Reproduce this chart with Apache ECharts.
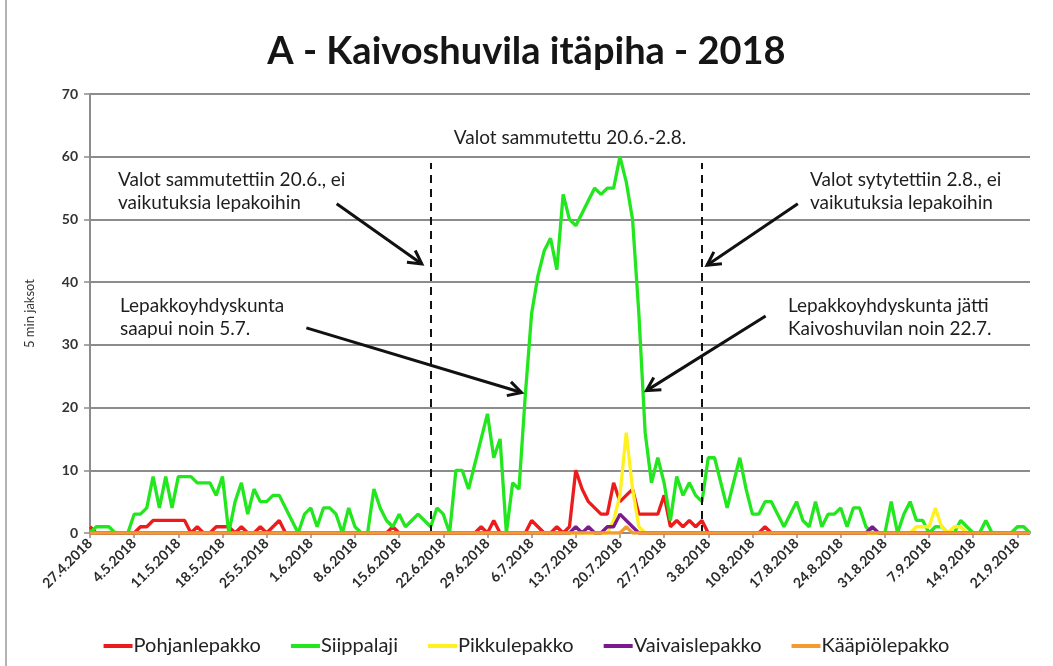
<!DOCTYPE html>
<html>
<head>
<meta charset="utf-8">
<script src="https://cdn.jsdelivr.net/npm/echarts@6/dist/echarts.min.js"></script>
<style>
  html, body { margin: 0; padding: 0; background: #ffffff; }
  #main { width: 1053px; height: 666px; }
</style>
</head>
<body>
<div id="main"></div>
<script>
// Daily counts of 5-minute periods with bat activity, 27.4.2018 – 23.9.2018
const firstDay = [2018, 4, 27];
const dayCount = 150;

const speciesNames = ['Pohjanlepakko', 'Siippalaji', 'Pikkulepakko', 'Vaivaislepakko', 'Kääpiölepakko'];
const speciesColors = ['#ec1c1c', '#22e61e', '#fff020', '#7a1a8e', '#f39a30'];

const pohjanlepakko = [
  1,0,0,0,0,0,0,0,1,1, 2,2,2,2,2,2,0,1,0,0, 1,1,1,0,1,0,0,1,0,1,
  2,0,0,0,0,0,0,0,0,0, 0,0,0,0,0,0,0,0,1,0, 0,0,0,0,0,0,0,0,0,0,
  0,0,1,0,2,0,0,0,0,0, 2,1,0,0,1,0,1,10,7,5, 4,3,3,8,5,6,7,3,3,3,
  3,6,1,2,1,2,1,2,0,0, 0,0,0,0,0,0,0,1,0,0, 0,0,0,0,0,0,0,0,0,0,
  0,0,0,0,0,0,0,0,0,0, 0,0,0,0,0,0,0,0,0,0, 0,0,0,0,0,0,0,0,0,0
];
const siippalaji = [
  0,1,1,1,0,0,0,3,3,4, 9,4,9,4,9,9,9,8,8,8, 6,9,0,5,8,3,7,5,5,6,
  6,4,2,0,3,4,1,4,4,3, 0,4,1,0,0,7,4,2,1,3, 1,2,3,2,1,4,3,0,10,10,
  7,11,15,19,12,15,0,8,7,22, 35,41,45,47,42,54,50,49,51,53, 55,54,55,55,60,56,50,35,16,8,
  12,8,2,9,6,8,6,5,12,12, 8,4,8,12,7,3,3,5,5,3, 1,3,5,2,1,5,1,3,3,4,
  1,4,4,1,0,0,0,5,0,3, 5,2,2,0,1,1,0,0,2,1, 0,0,2,0,0,0,0,1,1,0
];
const pikkulepakko = [
  0,0,0,0,0,0,0,0,0,0, 0,0,0,0,0,0,0,0,0,0, 0,0,0,0,0,0,0,0,0,0,
  0,0,0,0,0,0,0,0,0,0, 0,0,0,0,0,0,0,0,0,0, 0,0,0,0,0,0,0,0,0,0,
  0,0,0,0,0,0,0,0,0,0, 0,0,0,0,0,0,0,0,0,0, 0,0,0,2,6,16,7,1,0,0,
  0,0,0,0,0,0,0,0,0,0, 0,0,0,0,0,0,0,0,0,0, 0,0,0,0,0,0,0,0,0,0,
  0,0,0,0,0,0,0,0,0,0, 0,1,1,1,4,1,0,1,1,0, 0,0,0,0,0,0,0,0,0,0
];
const vaivaislepakko = [
  0,0,0,0,0,0,0,0,0,0, 0,0,0,0,0,0,0,0,0,0, 0,0,0,0,0,0,0,0,0,0,
  0,0,0,0,0,0,0,0,0,0, 0,0,0,0,0,0,0,0,0,0, 0,0,0,0,0,0,0,0,0,0,
  0,0,0,0,0,0,0,0,0,0, 0,0,0,0,0,0,0,1,0,1, 0,0,1,1,3,2,1,0,0,0,
  0,0,0,0,0,0,0,0,0,0, 0,0,0,0,0,0,0,0,0,0, 0,0,0,0,0,0,0,0,0,0,
  0,0,0,0,1,0,0,0,0,0, 0,0,0,0,0,0,0,0,0,0, 0,0,0,0,0,0,0,0,0,0
];
const kaapiolepakko = [
  0,0,0,0,0,0,0,0,0,0, 0,0,0,0,0,0,0,0,0,0, 0,0,0,0,0,0,0,0,0,0,
  0,0,0,0,0,0,0,0,0,0, 0,0,0,0,0,0,0,0,0,0, 0,0,0,0,0,0,0,0,0,0,
  0,0,0,0,0,0,0,0,0,0, 0,0,0,0,0,0,0,0,0,0, 0,0,0,0,0,1,0,0,0,0,
  0,0,0,0,0,0,0,0,0,0, 0,0,0,0,0,0,0,0,0,0, 0,0,0,0,0,0,0,0,0,0,
  0,0,0,0,0,0,0,0,0,0, 0,0,0,0,0,0,0,0,0,0, 0,0,0,0,0,0,0,0,0,0
];
const speciesData = [pohjanlepakko, siippalaji, pikkulepakko, vaivaislepakko, kaapiolepakko];

// Dates when the lights were switched off and back on
const lightEventDates = ['20.6.2018', '2.8.2018'];
const lightEventTop = 59;

// Category labels d.m.yyyy
const dates = [];
for (let i = 0; i < dayCount; i++) {
  const d = new Date(firstDay[0], firstDay[1] - 1, firstDay[2] + i);
  dates.push(d.getDate() + '.' + (d.getMonth() + 1) + '.' + d.getFullYear());
}

const FONT = 'Lato, "Open Sans", sans-serif';
const chart = echarts.init(document.getElementById('main'), null, { renderer: 'canvas' });

const series = speciesNames.map((name, k) => ({
  name: name,
  type: 'line',
  data: speciesData[k],
  symbol: 'none',
  showSymbol: false,
  smooth: false,
  lineStyle: { width: 3.3, color: speciesColors[k] },
  itemStyle: { color: speciesColors[k] },
  z: 3 + k
}));

series[1].markLine = {
  silent: true,
  symbol: ['none', 'none'],
  label: { show: false },
  lineStyle: { type: [8, 6], color: '#111111', width: 2 },
  data: lightEventDates.map(d => [{ coord: [d, 0] }, { coord: [d, lightEventTop] }])
};

chart.setOption({
  animation: false,
  backgroundColor: '#ffffff',
  title: {
    text: 'A - Kaivoshuvila itäpiha - 2018',
    left: 'center',
    top: 28,
    textStyle: { fontFamily: FONT, fontSize: 38, fontWeight: 'bold', color: '#151515' }
  },
  grid: { left: 90, right: 23, top: 94, bottom: 133, containLabel: false },
  legend: {
    top: 631,
    left: 'center',
    icon: 'rect',
    itemWidth: 29,
    itemHeight: 4,
    itemGap: 30,
    textStyle: { fontFamily: FONT, fontSize: 20, color: '#222222', padding: [0, 0, 0, -4] },
    data: speciesNames
  },
  xAxis: {
    type: 'category',
    data: dates,
    boundaryGap: false,
    axisLine: { lineStyle: { color: '#8c8c8c', width: 2 } },
    axisTick: { show: true, interval: 6, length: 5, lineStyle: { color: '#8c8c8c', width: 1.5 } },
    axisLabel: {
      interval: 6,
      rotate: 45,
      margin: 8,
      fontFamily: FONT,
      fontSize: 14,
      fontWeight: 'bold',
      color: '#2a2a2a'
    },
    splitLine: { show: false }
  },
  yAxis: {
    type: 'value',
    min: 0,
    max: 70,
    interval: 10,
    name: '5 min jaksot',
    nameLocation: 'middle',
    nameRotate: 90,
    nameGap: 54,
    nameTextStyle: { fontFamily: FONT, fontSize: 13, color: '#333333' },
    axisLine: { show: true, lineStyle: { color: '#8c8c8c', width: 2 } },
    axisTick: { show: true, length: 6, lineStyle: { color: '#8c8c8c', width: 1.5 } },
    axisLabel: { fontFamily: FONT, fontSize: 14, fontWeight: 'bold', color: '#333333', margin: 12 },
    splitLine: { lineStyle: { color: '#8c8c8c', width: 2 } }
  },
  series: series
});

// Annotation arrows, anchored in data coordinates [day index, value]
const arrows = [
  { from: [39.1, 52.5], to: [52.6, 42.9] },
  { from: [112.2, 52.5], to: [97.8, 42.7] },
  { from: [34.3, 32.7], to: [68.4, 22.4] },
  { from: [107.1, 34.6], to: [88.2, 22.7] }
];

function toPx(p) {
  const i0 = Math.floor(p[0]);
  const f = p[0] - i0;
  const a = chart.convertToPixel({ xAxisIndex: 0, yAxisIndex: 0 }, [i0, p[1]]);
  const b = chart.convertToPixel({ xAxisIndex: 0, yAxisIndex: 0 }, [i0 + 1, p[1]]);
  return [a[0] + (b[0] - a[0]) * f, a[1]];
}

const graphics = [];
arrows.forEach(a => {
  const s = toPx(a.from), t = toPx(a.to);
  const ang = Math.atan2(t[1] - s[1], t[0] - s[0]);
  const L = 15, spread = 0.5;
  graphics.push({
    type: 'line', silent: true, z: 20,
    shape: { x1: s[0], y1: s[1], x2: t[0], y2: t[1] },
    style: { stroke: '#111111', lineWidth: 3 }
  });
  graphics.push({
    type: 'polyline', silent: true, z: 20,
    shape: { points: [
      [t[0] - L * Math.cos(ang - spread), t[1] - L * Math.sin(ang - spread)],
      [t[0], t[1]],
      [t[0] - L * Math.cos(ang + spread), t[1] - L * Math.sin(ang + spread)]
    ] },
    style: { stroke: '#111111', lineWidth: 3, fill: null }
  });
});

// Text notes; y is the centre of the first line
const LINE_H = 23;
const notes = [
  { x: 570, y: 138, text: 'Valot sammutettu 20.6.-2.8.', align: 'center' },
  { x: 118, y: 180, text: 'Valot sammutettiin 20.6., ei\nvaikutuksia lepakoihin', align: 'left' },
  { x: 810, y: 180, text: 'Valot sytytettiin 2.8., ei\nvaikutuksia lepakoihin', align: 'left' },
  { x: 120, y: 306, text: 'Lepakkoyhdyskunta\nsaapui noin 5.7.', align: 'left' },
  { x: 788, y: 306, text: 'Lepakkoyhdyskunta jätti\nKaivoshuvilan noin 22.7.', align: 'left' }
];
notes.forEach(n => {
  graphics.push({
    type: 'text', silent: true, z: 20,
    x: n.x, y: n.y - LINE_H / 2,
    style: {
      text: n.text,
      fontFamily: FONT, fontSize: 19, lineHeight: LINE_H,
      fill: '#1e1e1e',
      align: n.align, verticalAlign: 'top'
    }
  });
});

// chart frame edge on the left
graphics.push({
  type: 'line', silent: true,
  shape: { x1: 6, y1: 0, x2: 6, y2: 666 },
  style: { stroke: '#9a9a9a', lineWidth: 1.5 }
});

chart.setOption({ graphic: graphics });
</script>
</body>
</html>
